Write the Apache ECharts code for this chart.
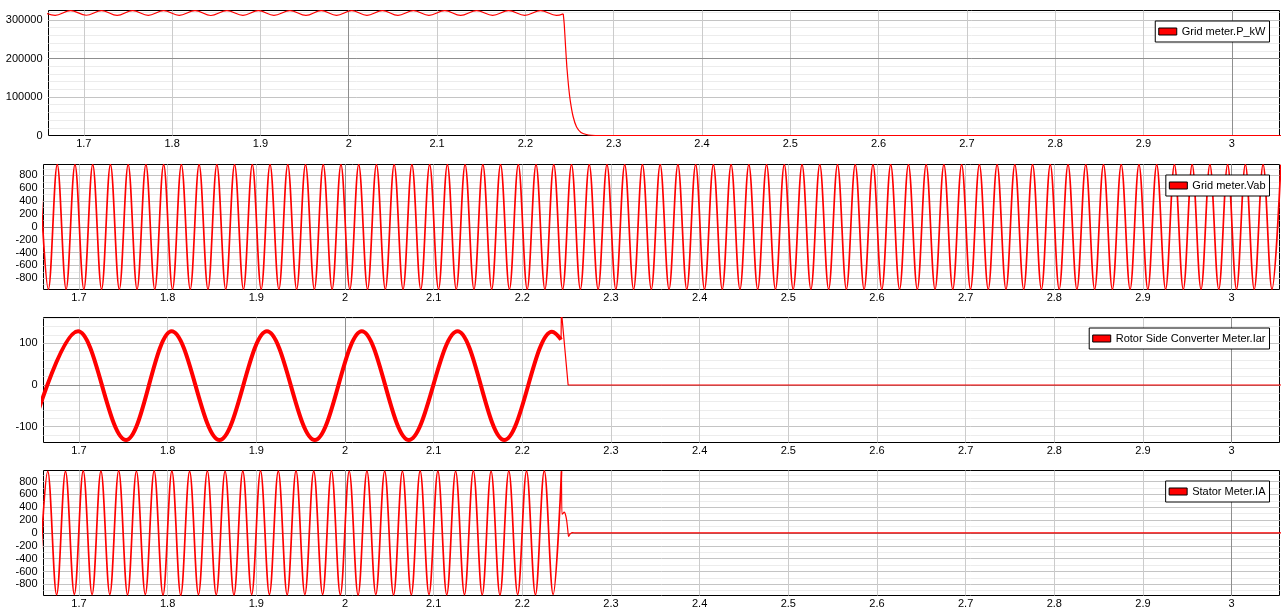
<!DOCTYPE html>
<html><head><meta charset="utf-8">
<script src="https://cdn.jsdelivr.net/npm/echarts/dist/echarts.min.js"></script>
<style>html,body{margin:0;padding:0;background:#fff}#c{width:1286px;height:614px}</style>
</head><body><div id="c"></div>
<script>
// ---------------- data ----------------
const xRange = [1.66, 3.054];
const seriesNames = ['Grid meter.P_kW', 'Grid meter.Vab', 'Rotor Side Converter Meter.Iar', 'Stator Meter.IA'];
const yRanges = [[0, 324700], [-976, 970], [-138, 162], [-974, 972]];
const darkYLines = [200000, 0, 0, 0];
const darkXLines = [2, 3];

// Grid meter.P_kW : ripple (dips / peaks) then the trip decay
const pRipple = [
  [1.6499,324500],[1.6675,312000],[1.6850,324600],[1.7026,312300],[1.7201,324500],[1.7377,311800],
  [1.7553,324600],[1.7729,312200],[1.7904,324500],[1.8080,312000],[1.8259,324600],[1.8438,311700],
  [1.8620,324500],[1.8802,312100],[1.8977,324600],[1.9153,312000],[1.9334,324500],[1.9516,311800],
  [1.9689,324600],[1.9862,312200],[2.0034,324500],[2.0206,312000],[2.0381,324600],[2.0557,311900],
  [2.0732,324500],[2.0908,312100],[2.1087,324600],[2.1267,311800],[2.1448,324500],[2.1630,312000],
  [2.1811,324600],[2.1993,312200],[2.2172,324500],[2.2352,312000],[2.2429,316000]
];
const pDrop = [
  [2.2429,316000],[2.2440,290000],[2.2455,232000],[2.2470,178000],[2.2490,126000],[2.2510,88000],
  [2.2540,50000],[2.2580,22000],[2.2630,8000],[2.2690,2500],[2.2750,600],[2.2850,0],[3.0600,0]
];

// Grid meter.Vab : peaks and troughs
const vab = [
  [1.6555,968],[1.6655,-972],[1.6755,968],[1.6855,-972],[1.6955,968],[1.7055,-972],[1.7155,968],[1.7255,-972],[1.7355,968],[1.7455,-972],
  [1.7555,968],[1.7655,-972],[1.7755,968],[1.7855,-972],[1.7955,968],[1.8055,-972],[1.8155,968],[1.8255,-972],[1.8355,968],[1.8455,-972],
  [1.8555,968],[1.8655,-972],[1.8755,968],[1.8855,-972],[1.8955,968],[1.9055,-972],[1.9155,968],[1.9255,-972],[1.9355,968],[1.9455,-972],
  [1.9555,968],[1.9655,-972],[1.9755,968],[1.9855,-972],[1.9955,968],[2.0055,-972],[2.0155,968],[2.0255,-972],[2.0355,968],[2.0455,-972],
  [2.0555,968],[2.0655,-972],[2.0755,968],[2.0855,-972],[2.0955,968],[2.1055,-972],[2.1155,968],[2.1255,-972],[2.1355,968],[2.1455,-972],
  [2.1555,968],[2.1655,-972],[2.1755,968],[2.1855,-972],[2.1955,968],[2.2055,-972],[2.2155,968],[2.2255,-972],[2.2355,968],[2.2455,-972],
  [2.2555,968],[2.2655,-972],[2.2755,968],[2.2855,-972],[2.2955,968],[2.3055,-972],[2.3155,968],[2.3255,-972],[2.3355,968],[2.3455,-972],
  [2.3555,968],[2.3655,-972],[2.3755,968],[2.3855,-972],[2.3955,968],[2.4055,-972],[2.4155,968],[2.4255,-972],[2.4355,968],[2.4455,-972],
  [2.4555,968],[2.4655,-972],[2.4755,968],[2.4855,-972],[2.4955,968],[2.5055,-972],[2.5155,968],[2.5255,-972],[2.5355,968],[2.5455,-972],
  [2.5555,968],[2.5655,-972],[2.5755,968],[2.5855,-972],[2.5955,968],[2.6055,-972],[2.6155,968],[2.6255,-972],[2.6355,968],[2.6455,-972],
  [2.6555,968],[2.6655,-972],[2.6755,968],[2.6855,-972],[2.6955,968],[2.7055,-972],[2.7155,968],[2.7255,-972],[2.7355,968],[2.7455,-972],
  [2.7555,968],[2.7655,-972],[2.7755,968],[2.7855,-972],[2.7955,968],[2.8055,-972],[2.8155,968],[2.8255,-972],[2.8355,968],[2.8455,-972],
  [2.8555,968],[2.8655,-972],[2.8755,968],[2.8855,-972],[2.8955,968],[2.9055,-972],[2.9155,968],[2.9255,-972],[2.9355,968],[2.9455,-972],
  [2.9555,968],[2.9655,-972],[2.9755,968],[2.9855,-972],[2.9955,968],[3.0055,-972],[3.0155,968],[3.0255,-972],[3.0355,968],[3.0455,-972],
  [3.0555,968]
];

// Rotor Side Converter Meter.Iar : peaks / troughs, then the trip
const iarMain = [
  [1.6440,-132],[1.6990,129],[1.7531,-132],[1.8045,129],[1.8585,-132],[1.9120,129],[1.9660,-132],
  [2.0190,129],[2.0720,-132],[2.1270,129],[2.1797,-132],[2.2334,128],[2.2437,109]
];
const iarTail = [[2.2437,109],[2.2441,178],[2.2517,0],[3.0600,0]];

// Stator Meter.IA : troughs / peaks, then the trip
const iaMain = [
  [1.6548,-958],[1.6648,960],[1.6748,-962],[1.6848,958],[1.6948,-956],[1.7048,966],[1.7148,-960],[1.7248,962],[1.7348,-958],[1.7448,968],
  [1.7548,-964],[1.7648,960],[1.7748,-958],[1.7848,966],[1.7948,-966],[1.8048,962],[1.8148,-970],[1.8248,958],[1.8348,-960],[1.8448,964],
  [1.8548,-962],[1.8648,960],[1.8748,-966],[1.8848,962],[1.8948,-960],[1.9048,968],[1.9148,-958],[1.9248,962],[1.9348,-964],[1.9448,966],
  [1.9548,-960],[1.9648,962],[1.9748,-958],[1.9848,968],[1.9948,-962],[2.0048,960],[2.0148,-968],[2.0248,964],[2.0348,-960],[2.0448,962],
  [2.0548,-966],[2.0648,960],[2.0748,-962],[2.0848,966],[2.0948,-958],[2.1048,962],[2.1148,-964],[2.1248,960],[2.1348,-960],[2.1448,968],
  [2.1548,-962],[2.1648,960],[2.1748,-966],[2.1848,964],[2.1948,-960],[2.2048,962],[2.2148,-962],[2.2248,966],[2.2348,-958],[2.2442,960]
];
const iaTail = [
  [2.2442,960],[2.2447,290],[2.2460,305],[2.2472,326],[2.2485,295],[2.2500,200],[2.2512,60],
  [2.2522,-55],[2.2540,-15],[2.2567,5],[2.2600,0],[3.0600,0]
];

// ---------------- layout / style ----------------
const FONT = 'Liberation Sans';
const RED = '#ff0000';
const gridTops = [10.5, 164.5, 317.5, 470.5];
const gridLefts = [48.5, 43.5, 43.5, 43.5];
const GRID_H = 125;
const yMainSpec = [{interval: 100000}, {splitNumber: 10}, {splitNumber: 3}, {splitNumber: 10}];
const yShowMin = [true, false, false, false];
const yMinorSpec = [{interval: 20000}, {splitNumber: 20}, {splitNumber: 15}, {splitNumber: 20}];

const grids = [], xAxes = [], yAxes = [], legends = [], series = [];
for (let i = 0; i < 4; i++) {
  grids.push({left: gridLefts[i], right: 6.5, top: gridTops[i], height: GRID_H, show: true,
    borderColor: '#000', borderWidth: 1, backgroundColor: '#fff'});
  xAxes.push({type: 'value', gridIndex: i, min: xRange[0], max: xRange[1], splitNumber: 14,
    axisLine: {show: false, onZero: false}, axisTick: {show: false},
    axisLabel: {show: true, margin: 3, fontFamily: FONT, fontSize: 11, color: '#000',
      showMinLabel: false, showMaxLabel: false},
    splitLine: {show: true, showMinLine: false, showMaxLine: false,
      lineStyle: {color: '#cbcbcb', width: 1}}});
  const minor = Object.assign({type: 'value', gridIndex: i, position: 'right',
    min: yRanges[i][0], max: yRanges[i][1],
    axisLine: {show: false}, axisTick: {show: false}, axisLabel: {show: false},
    splitLine: {show: true, showMinLine: false, showMaxLine: false,
      lineStyle: {color: '#ececec', width: 1}}}, yMinorSpec[i]);
  const main = Object.assign({type: 'value', gridIndex: i, position: 'left',
    min: yRanges[i][0], max: yRanges[i][1],
    axisLine: {show: false, onZero: false}, axisTick: {show: false},
    axisLabel: {show: true, margin: 6, fontFamily: FONT, fontSize: 11, color: '#000',
      showMinLabel: yShowMin[i], showMaxLabel: false, formatter: v => String(v)},
    splitLine: {show: true, showMinLine: false, showMaxLine: false,
      lineStyle: {color: '#c4c4c4', width: 1}}}, yMainSpec[i]);
  yAxes.push(minor, main);
  legends.push({data: [seriesNames[i]], right: 16.5, top: gridTops[i] + 10.5, orient: 'horizontal',
    icon: 'rect', itemWidth: 18, itemHeight: 7, itemGap: 5, padding: [5, 4, 5, 3],
    borderColor: '#000', borderWidth: 1, borderRadius: 0, backgroundColor: '#fff',
    selectedMode: false,
    itemStyle: {color: RED, borderColor: '#000', borderWidth: 1},
    textStyle: {fontFamily: FONT, fontSize: 11, color: '#000'}});
}

function lineSeries(panel, data, width, opts) {
  return Object.assign({
    name: seriesNames[panel], type: 'line', xAxisIndex: panel, yAxisIndex: panel * 2 + 1,
    data: data, showSymbol: false, symbol: 'none', silent: true, animation: false,
    lineStyle: {color: RED, width: width}, itemStyle: {color: RED}, z: 3
  }, opts || {});
}
function darkLines(panel) {
  return {silent: true, symbol: ['none', 'none'], z: 1, animation: false,
    label: {show: false}, lineStyle: {color: '#8e8e8e', width: 1, type: 'solid'},
    emphasis: {disabled: true},
    data: [{yAxis: darkYLines[panel]}].concat(darkXLines.map(v => ({xAxis: v})))};
}
const SM = {smooth: 0.36, smoothMonotone: 'x'};

series.push(lineSeries(0, pRipple, 1.2, Object.assign({markLine: darkLines(0)}, SM)));
series.push(lineSeries(0, pDrop, 1.2, {smooth: 0.2}));
series.push(lineSeries(1, vab, 1.7, Object.assign({markLine: darkLines(1)}, SM)));
series.push(lineSeries(2, iarMain, 4, Object.assign({markLine: darkLines(2)}, SM)));
series.push(lineSeries(2, iarTail, 1.2, {smooth: false}));
series.push(lineSeries(3, iaMain, 1.7, Object.assign({markLine: darkLines(3)}, SM)));
series.push(lineSeries(3, iaTail, 1.2, {smooth: 0.2}));

const chart = echarts.init(document.getElementById('c'), null, {renderer: 'canvas'});
chart.setOption({
  animation: false,
  backgroundColor: '#fff',
  grid: grids, xAxis: xAxes, yAxis: yAxes, legend: legends, series: series
});
</script></body></html>
